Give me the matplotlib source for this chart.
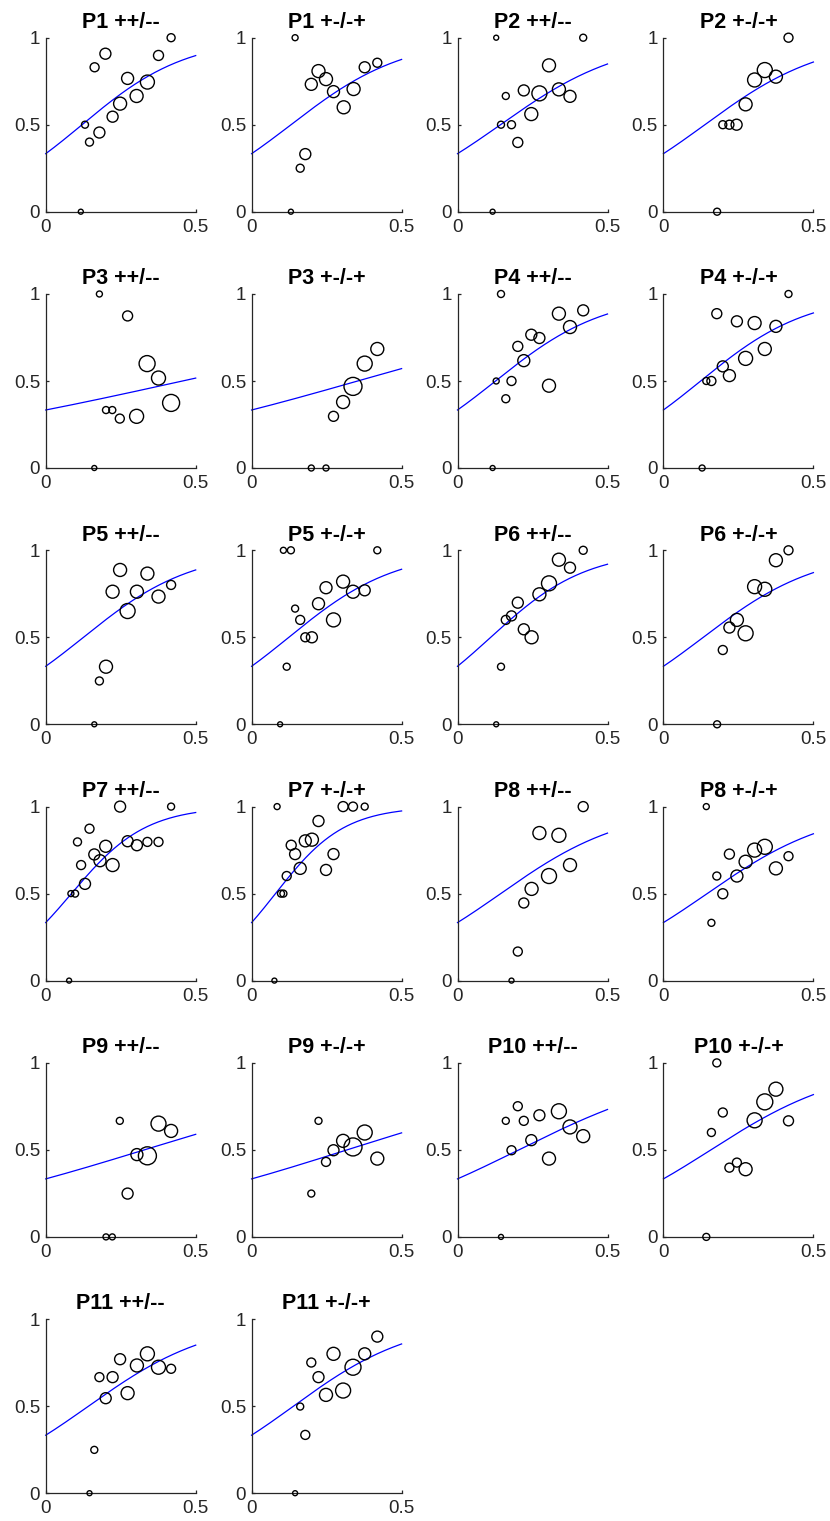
import numpy as np
import matplotlib
matplotlib.use('Agg')
import matplotlib.pyplot as plt

plt.rcParams['font.family'] = ['Liberation Sans', 'DejaVu Sans']

# panel titles, row by row
titles = ['P1 ++/--', 'P1 +-/-+', 'P2 ++/--', 'P2 +-/-+',
          'P3 ++/--', 'P3 +-/-+', 'P4 ++/--', 'P4 +-/-+',
          'P5 ++/--', 'P5 +-/-+', 'P6 ++/--', 'P6 +-/-+',
          'P7 ++/--', 'P7 +-/-+', 'P8 ++/--', 'P8 +-/-+',
          'P9 ++/--', 'P9 +-/-+', 'P10 ++/--', 'P10 +-/-+',
          'P11 ++/--', 'P11 +-/-+']

# slope of fitted logistic curve (starts at 1/3 for x = 0)
fit_k = [5.72, 5.28, 4.84, 5.02,
         1.52, 1.96, 5.47, 5.59,
         5.51, 5.59, 6.27, 5.22,
         8.08, 8.71, 4.82, 4.76,
         2.11, 2.18, 3.40, 4.39,
         4.87, 4.98]

# observed points: x, y, weight (marker diameter)
p1a_x = [0.117, 0.131, 0.146, 0.163, 0.179, 0.199, 0.223, 0.248, 0.273, 0.303, 0.339, 0.376, 0.418]
p1a_y = [0.0, 0.5, 0.4, 0.83, 0.455, 0.908, 0.546, 0.621, 0.766, 0.665, 0.745, 0.898, 1.0]
p1a_w = [5, 7, 8, 9, 11, 11, 11, 13, 12, 13, 14, 10, 8]

p1b_x = [0.131, 0.145, 0.162, 0.179, 0.199, 0.223, 0.248, 0.273, 0.307, 0.340, 0.377, 0.419]
p1b_y = [0.0, 1.0, 0.25, 0.331, 0.732, 0.808, 0.762, 0.69, 0.6, 0.705, 0.83, 0.856]
p1b_w = [5, 6, 8, 11, 12, 13, 13, 12, 13, 13, 11, 9]

p2a_x = [0.117, 0.129, 0.145, 0.161, 0.180, 0.201, 0.221, 0.246, 0.273, 0.305, 0.338, 0.375, 0.419]
p2a_y = [0.0, 1.0, 0.5, 0.665, 0.5, 0.398, 0.697, 0.561, 0.68, 0.841, 0.703, 0.663, 1.0]
p2a_w = [5, 5, 7, 7, 8, 10, 11, 13, 15, 13, 13, 12, 7]

p2b_x = [0.179, 0.198, 0.220, 0.244, 0.274, 0.304, 0.338, 0.375, 0.417]
p2b_y = [0.0, 0.5, 0.5, 0.5, 0.617, 0.757, 0.814, 0.776, 1.0]
p2b_w = [7, 8, 9, 11, 13, 14, 15, 13, 9]

p3a_x = [0.162, 0.179, 0.201, 0.222, 0.247, 0.273, 0.303, 0.338, 0.376, 0.418]
p3a_y = [0.0, 1.0, 0.333, 0.333, 0.284, 0.874, 0.297, 0.6, 0.517, 0.374]
p3a_w = [5, 6, 7, 7, 9, 10, 14, 16, 14, 17]

p3b_x = [0.199, 0.248, 0.273, 0.305, 0.338, 0.377, 0.419]
p3b_y = [0.0, 0.0, 0.297, 0.379, 0.469, 0.6, 0.684]
p3b_w = [6, 6, 10, 13, 18, 15, 13]

p4a_x = [0.117, 0.129, 0.145, 0.161, 0.180, 0.201, 0.221, 0.246, 0.273, 0.305, 0.338, 0.375, 0.419]
p4a_y = [0.0, 0.5, 1.0, 0.398, 0.5, 0.699, 0.617, 0.766, 0.747, 0.473, 0.887, 0.81, 0.906]
p4a_w = [5, 6, 7, 8, 9, 10, 12, 11, 11, 13, 13, 13, 11]

p4b_x = [0.129, 0.143, 0.160, 0.178, 0.198, 0.220, 0.245, 0.274, 0.304, 0.338, 0.375, 0.417]
p4b_y = [0.0, 0.5, 0.5, 0.887, 0.584, 0.531, 0.843, 0.63, 0.833, 0.684, 0.814, 1.0]
p4b_w = [6, 7, 9, 10, 11, 12, 11, 14, 13, 13, 12, 7]

p5a_x = [0.162, 0.179, 0.201, 0.223, 0.248, 0.273, 0.304, 0.339, 0.376, 0.418]
p5a_y = [0.0, 0.249, 0.331, 0.762, 0.887, 0.651, 0.762, 0.866, 0.734, 0.801]
p5a_w = [5, 8, 13, 13, 13, 15, 13, 13, 13, 9]

p5b_x = [0.095, 0.106, 0.131, 0.117, 0.145, 0.162, 0.179, 0.201, 0.223, 0.248, 0.273, 0.305, 0.338, 0.377, 0.419]
p5b_y = [0.0, 1.0, 1.0, 0.331, 0.665, 0.6, 0.5, 0.5, 0.693, 0.785, 0.6, 0.82, 0.762, 0.77, 1.0]
p5b_w = [5, 6, 7, 7, 7, 9, 9, 11, 12, 12, 14, 13, 13, 11, 7]

p6a_x = [0.129, 0.145, 0.161, 0.180, 0.201, 0.221, 0.247, 0.273, 0.305, 0.338, 0.375, 0.419]
p6a_y = [0.0, 0.331, 0.6, 0.623, 0.699, 0.546, 0.5, 0.747, 0.81, 0.946, 0.9, 1.0]
p6a_w = [5, 7, 9, 10, 11, 11, 13, 13, 15, 13, 11, 8]

p6b_x = [0.179, 0.198, 0.220, 0.245, 0.274, 0.304, 0.338, 0.375, 0.417]
p6b_y = [0.0, 0.427, 0.556, 0.6, 0.523, 0.791, 0.776, 0.943, 1.0]
p6b_w = [7, 9, 11, 13, 15, 14, 14, 13, 9]

p7a_x = [0.078, 0.084, 0.098, 0.106, 0.118, 0.131, 0.146, 0.162, 0.181, 0.200, 0.223, 0.248, 0.273, 0.304, 0.339, 0.376, 0.418]
p7a_y = [0.0, 0.5, 0.5, 0.797, 0.664, 0.556, 0.873, 0.725, 0.689, 0.772, 0.664, 1.0, 0.801, 0.778, 0.797, 0.797, 1.0]
p7a_w = [5, 6, 7, 8, 9, 11, 9, 11, 12, 12, 13, 11, 11, 11, 9, 9, 7]

p7b_x = [0.076, 0.085, 0.098, 0.106, 0.117, 0.132, 0.145, 0.162, 0.179, 0.201, 0.223, 0.248, 0.273, 0.305, 0.338, 0.377]
p7b_y = [0.0, 1.0, 0.5, 0.5, 0.601, 0.778, 0.727, 0.645, 0.803, 0.81, 0.917, 0.636, 0.727, 1.0, 1.0, 1.0]
p7b_w = [5, 6, 7, 7, 9, 10, 11, 12, 12, 13, 11, 11, 11, 10, 9, 7]

p8a_x = [0.180, 0.201, 0.221, 0.247, 0.273, 0.305, 0.338, 0.375, 0.419]
p8a_y = [0.0, 0.167, 0.446, 0.527, 0.848, 0.601, 0.835, 0.664, 1.0]
p8a_w = [5, 9, 10, 13, 13, 15, 14, 13, 10]

p8b_x = [0.143, 0.160, 0.178, 0.198, 0.220, 0.245, 0.274, 0.304, 0.338, 0.375, 0.417]
p8b_y = [1.0, 0.332, 0.601, 0.499, 0.727, 0.601, 0.683, 0.75, 0.769, 0.645, 0.715]
p8b_w = [6, 7, 8, 10, 10, 12, 13, 14, 15, 13, 9]

p9a_x = [0.201, 0.222, 0.247, 0.273, 0.304, 0.339, 0.376, 0.418]
p9a_y = [0.0, 0.0, 0.667, 0.249, 0.473, 0.466, 0.651, 0.609]
p9a_w = [6, 6, 7, 11, 12, 18, 15, 13]

p9b_x = [0.199, 0.223, 0.248, 0.273, 0.305, 0.338, 0.377, 0.419]
p9b_y = [0.249, 0.667, 0.431, 0.498, 0.552, 0.517, 0.6, 0.45]
p9b_w = [7, 7, 9, 11, 13, 18, 15, 13]

p10a_x = [0.145, 0.161, 0.180, 0.201, 0.221, 0.246, 0.273, 0.305, 0.338, 0.375, 0.419]
p10a_y = [0.0, 0.667, 0.498, 0.751, 0.667, 0.556, 0.699, 0.45, 0.722, 0.632, 0.579]
p10a_w = [5, 7, 9, 9, 9, 11, 11, 13, 15, 14, 13]

p10b_x = [0.143, 0.160, 0.178, 0.198, 0.220, 0.245, 0.274, 0.304, 0.338, 0.375, 0.417]
p10b_y = [0.0, 0.6, 1.0, 0.715, 0.398, 0.427, 0.389, 0.67, 0.776, 0.849, 0.667]
p10b_w = [7, 8, 8, 9, 9, 9, 13, 15, 16, 14, 10]

p11a_x = [0.146, 0.162, 0.179, 0.200, 0.223, 0.248, 0.273, 0.304, 0.339, 0.376, 0.418]
p11a_y = [0.0, 0.249, 0.667, 0.546, 0.667, 0.77, 0.575, 0.734, 0.801, 0.724, 0.715]
p11a_w = [5, 7, 9, 11, 11, 11, 13, 13, 14, 14, 9]

p11b_x = [0.145, 0.162, 0.179, 0.199, 0.223, 0.248, 0.273, 0.305, 0.338, 0.377, 0.419]
p11b_y = [0.0, 0.498, 0.335, 0.751, 0.667, 0.565, 0.801, 0.59, 0.724, 0.801, 0.9]
p11b_w = [5, 7, 9, 9, 11, 13, 13, 15, 16, 12, 11]

points = [(p1a_x, p1a_y, p1a_w), (p1b_x, p1b_y, p1b_w), (p2a_x, p2a_y, p2a_w), (p2b_x, p2b_y, p2b_w),
          (p3a_x, p3a_y, p3a_w), (p3b_x, p3b_y, p3b_w), (p4a_x, p4a_y, p4a_w), (p4b_x, p4b_y, p4b_w),
          (p5a_x, p5a_y, p5a_w), (p5b_x, p5b_y, p5b_w), (p6a_x, p6a_y, p6a_w), (p6b_x, p6b_y, p6b_w),
          (p7a_x, p7a_y, p7a_w), (p7b_x, p7b_y, p7b_w), (p8a_x, p8a_y, p8a_w), (p8b_x, p8b_y, p8b_w),
          (p9a_x, p9a_y, p9a_w), (p9b_x, p9b_y, p9b_w), (p10a_x, p10a_y, p10a_w), (p10b_x, p10b_y, p10b_w),
          (p11a_x, p11a_y, p11a_w), (p11b_x, p11b_y, p11b_w)]

W, H = 830, 1521
dpi = 100
fig = plt.figure(figsize=(W / dpi, H / dpi), dpi=dpi)

axis_col = '#262626'
xs = np.linspace(0, 0.5, 200)

for i, title in enumerate(titles):
    row, col = divmod(i, 4)
    left = 45.7 + 205.9 * col
    bottom = 211.7 + 256.3 * row
    ax = fig.add_axes([left / W, 1 - bottom / H, 150 / W, 174 / H])

    px, py, pw = points[i]
    sizes = (np.array(pw) * 72 / dpi) ** 2
    ax.scatter(px, py, s=sizes, facecolors='none', edgecolors='black', linewidths=1.0, clip_on=False, zorder=3)

    k = fit_k[i]
    ax.plot(xs, 1 / (1 + 2 * np.exp(-k * xs)), color='blue', linewidth=0.9, clip_on=False)

    ax.set_xlim(0, 0.5)
    ax.set_ylim(0, 1)
    ax.set_xticks([0, 0.5])
    ax.set_xticklabels(['0', '0.5'])
    ax.set_yticks([0, 0.5, 1])
    ax.set_yticklabels(['0', '0.5', '1'])
    for side in ['top', 'right']:
        ax.spines[side].set_visible(False)
    for side in ['left', 'bottom']:
        ax.spines[side].set_color(axis_col)
        ax.spines[side].set_linewidth(0.9)
    ax.tick_params(direction='in', length=2.5, width=0.9, colors=axis_col, labelsize=13.5)
    ax.tick_params(axis='x', pad=5)
    ax.tick_params(axis='y', pad=4)
    ax.set_title(title, fontsize=15.5, fontweight='bold', pad=7)

fig.savefig('out.png', dpi=dpi)
